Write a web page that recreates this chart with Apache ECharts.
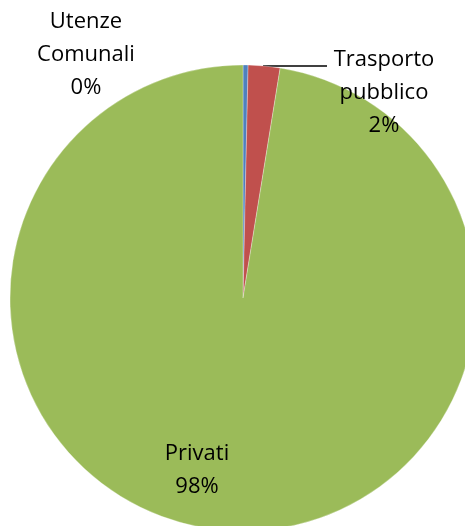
<!DOCTYPE html>
<html><head><meta charset="utf-8">
<script src="https://cdn.jsdelivr.net/npm/echarts@6/dist/echarts.min.js"></script>
<style>html,body{margin:0;padding:0;background:#fff}#c{width:465px;height:526px}</style>
</head><body><div id="c"></div>
<script>
var categories = ['Utenze Comunali', 'Trasporto pubblico', 'Privati'];
var values = [0.35, 2.2, 97.45];
var percentLabels = ['0%', '2%', '98%'];
var colors = ['#4F81BD', '#C0504D', '#9BBB59'];
var labelNames = ['Utenze\nComunali', 'Trasporto\npubblico', 'Privati'];

var chart = echarts.init(document.getElementById('c'));
var data = categories.map(function (c, i) {
  return { name: c, value: values[i], itemStyle: { color: colors[i] } };
});
var labelPos = [
  { x: 86, y: 55, line: null },
  { x: 384, y: 93, line: [[263, 66], [295, 66], [327, 66]] },
  { x: 197, y: 470, line: null }
];
chart.setOption({
  animation: false,
  series: [{
    type: 'pie',
    center: [243, 298],
    radius: [0, 233],
    startAngle: 90,
    clockwise: true,
    avoidLabelOverlap: false,
    data: data,
    itemStyle: { borderColor: '#fff', borderWidth: 0.3 },
    label: {
      show: true,
      overflow: 'none',
      formatter: function (p) { return labelNames[p.dataIndex] + '\n' + percentLabels[p.dataIndex]; },
      fontFamily: 'Open Sans, Liberation Sans, sans-serif',
      fontSize: 22,
      lineHeight: 33,
      color: '#000',
      align: 'center'
    },
    labelLine: { show: true, lineStyle: { color: '#000', width: 1.5 }, length: 10, length2: 10 },
    labelLayout: function (p) {
      var lp = labelPos[p.dataIndex];
      var r = { x: lp.x, y: lp.y, align: 'center', verticalAlign: 'middle' };
      if (lp.line) r.labelLinePoints = lp.line; else r.labelLinePoints = [[0,0],[0,0],[0,0]];
      return r;
    }
  }]
});
</script></body></html>
